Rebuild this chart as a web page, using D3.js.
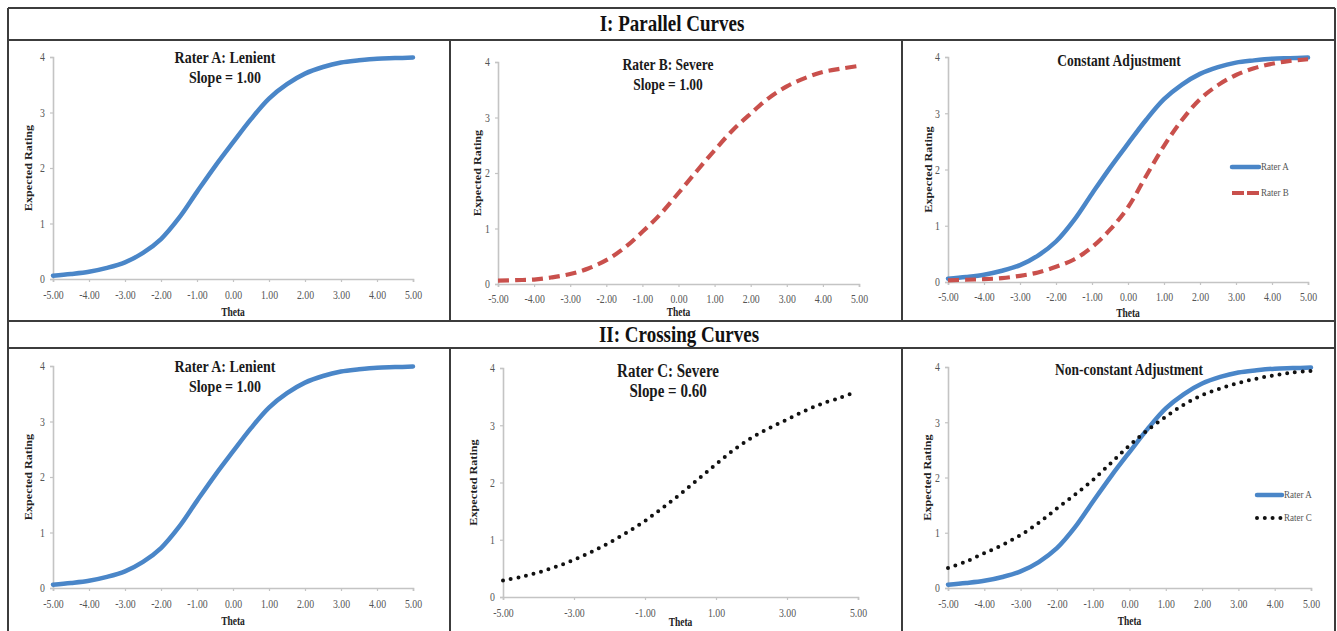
<!DOCTYPE html>
<html>
<head>
<meta charset="utf-8">
<title>Rater Curves</title>
<script src="https://d3js.org/d3.v7.min.js"></script>
<style>
  body { margin: 0; background: #fff; }
  svg { display: block; }
  text { font-family: "Liberation Serif", "Times New Roman", serif; }
</style>
</head>
<body>
<svg width="1337" height="631"></svg>
<script>
// theta grid used by the curves (every half unit)
const theta = [-5, -4.5, -4, -3.5, -3, -2.5, -2, -1.5, -1, -0.5, 0, 0.5, 1, 1.5, 2, 2.5, 3, 3.5, 4, 4.5, 5];
const thetaC = [-5, -4.5, -4, -3.5, -3, -2.5, -2, -1.5, -1, -0.5, 0, 0.5, 1, 1.5, 2, 2.5, 3, 3.5, 4, 4.5, 4.8];

const raterA = [0.06, 0.09, 0.13, 0.2, 0.3, 0.47, 0.72, 1.1, 1.57, 2.03, 2.46, 2.88, 3.25, 3.51, 3.7, 3.82, 3.9, 3.94, 3.97, 3.98, 3.99];
// rater B as drawn in the single panel and in the overlay panel
const raterBSevere = [0.06, 0.07, 0.08, 0.12, 0.18, 0.28, 0.43, 0.65, 0.94, 1.26, 1.64, 2.03, 2.41, 2.77, 3.07, 3.35, 3.56, 3.71, 3.82, 3.88, 3.93];
const raterBConstant = [0.03, 0.04, 0.05, 0.07, 0.11, 0.17, 0.27, 0.4, 0.62, 0.93, 1.33, 1.88, 2.42, 2.88, 3.25, 3.5, 3.68, 3.8, 3.88, 3.93, 3.96];
// rater C as drawn in the single panel and in the overlay panel
const raterCSevere = [0.29, 0.35, 0.43, 0.53, 0.65, 0.79, 0.95, 1.13, 1.33, 1.56, 1.8, 2.06, 2.32, 2.57, 2.78, 2.95, 3.1, 3.25, 3.38, 3.48, 3.55];
const raterCNonConstant = [0.36, 0.48, 0.63, 0.78, 0.96, 1.18, 1.44, 1.69, 1.96, 2.27, 2.58, 2.86, 3.1, 3.32, 3.49, 3.61, 3.71, 3.79, 3.85, 3.9, 3.93];

const thetaTicks = [-5, -4, -3, -2, -1, 0, 1, 2, 3, 4, 5];
const thetaTicksCoarse = [-5, -3, -1, 1, 3, 5];
const ratingTicks = [0, 1, 2, 3, 4];

const sectionTitles = ["I: Parallel Curves", "II: Crossing Curves"];

const BLUE = "#4a86c8", RED = "#c9504c";
const STRETCH = 1.22; // the source image is squeezed horizontally, so text looks tall
const styles = {
  solid: { stroke: BLUE, width: 4.5, dash: null, cap: "round" },
  dashed: { stroke: RED, width: 4.2, dash: "11,6", cap: "butt" },
  dotted: { stroke: "#111", width: 4, dash: "0,7.8", cap: "round" }
};

const svg = d3.select("svg");

// frame
const frame = svg.append("g").attr("stroke", "#3c3c3c").attr("stroke-width", 2);
[8, 40, 321, 348].forEach(y => frame.append("line").attr("x1", 8).attr("x2", 1335).attr("y1", y).attr("y2", y));
frame.append("line").attr("x1", 8).attr("x2", 8).attr("y1", 8).attr("y2", 640);
frame.append("line").attr("x1", 1335).attr("x2", 1335).attr("y1", 8).attr("y2", 640);
[450, 902].forEach(x => {
  frame.append("line").attr("x1", x).attr("x2", x).attr("y1", 40).attr("y2", 321);
  frame.append("line").attr("x1", x).attr("x2", x).attr("y1", 348).attr("y2", 640);
});

function tallText(parent, x, y, size, str) {
  return parent.append("text").attr("transform", `translate(${x},${y}) scale(1,${STRETCH})`)
    .attr("font-size", size).text(str);
}

tallText(svg, 672, 31, 19, sectionTitles[0]).attr("text-anchor", "middle")
  .attr("font-weight", "bold").attr("fill", "#111");
tallText(svg, 679, 342, 19, sectionTitles[1]).attr("text-anchor", "middle")
  .attr("font-weight", "bold").attr("fill", "#111");

const panels = [
  { left: 53, right: 413, top: 57, bottom: 279, cx: 225, titles: ["Rater A: Lenient", "Slope = 1.00"], tY: 63, tSize: 14,
    pad: 9, thetaY: 316, yLabX: 28, ticks: thetaTicks,
    series: [{ x: theta, y: raterA, s: "solid" }] },
  { left: 498, right: 859, top: 62, bottom: 284, cx: 668, titles: ["Rater B: Severe", "Slope = 1.00"], tY: 70, tSize: 13.5,
    pad: 8, thetaY: 316, yLabX: 477, ticks: thetaTicks,
    series: [{ x: theta, y: raterBSevere, s: "dashed" }] },
  { left: 948, right: 1308, top: 57, bottom: 282, cx: 1119, titles: ["Constant Adjustment"], tY: 66, tSize: 13.5,
    pad: 8, thetaY: 317, yLabX: 928, ticks: thetaTicks,
    series: [{ x: theta, y: raterA, s: "solid", name: "Rater A" }, { x: theta, y: raterBConstant, s: "dashed", name: "Rater B" }],
    legend: { x: 1232, w: 27, y: [167, 193] } },
  { left: 53, right: 413, top: 366, bottom: 588, cx: 225, titles: ["Rater A: Lenient", "Slope = 1.00"], tY: 372, tSize: 14,
    pad: 9, thetaY: 625, yLabX: 28, ticks: thetaTicks,
    series: [{ x: theta, y: raterA, s: "solid" }] },
  { left: 503, right: 858, top: 368, bottom: 597, cx: 668, titles: ["Rater C: Severe", "Slope = 0.60"], tY: 377, tSize: 15,
    pad: 9, thetaY: 626, yLabX: 473, ticks: thetaTicksCoarse,
    series: [{ x: thetaC, y: raterCSevere, s: "dotted" }] },
  { left: 948, right: 1311, top: 367, bottom: 588, cx: 1129, titles: ["Non-constant Adjustment"], tY: 375, tSize: 13.5,
    pad: 9, thetaY: 625, yLabX: 927, ticks: thetaTicks,
    series: [{ x: theta, y: raterA, s: "solid", name: "Rater A" }, { x: theta, y: raterCNonConstant, s: "dotted", name: "Rater C" }],
    legend: { x: 1257, w: 25, y: [495, 518] } }
];

panels.forEach(p => {
  const g = svg.append("g");
  const x = d3.scaleLinear().domain([-5, 5]).range([p.left, p.right]);
  const y = d3.scaleLinear().domain([0, 4]).range([p.bottom, p.top]);

  const xAxis = d3.axisBottom(x).tickValues(p.ticks).tickSize(3).tickPadding(p.pad)
    .tickFormat(d => d.toFixed(2));
  const yAxis = d3.axisLeft(y).tickValues(ratingTicks).tickSize(3).tickPadding(5)
    .tickFormat(d => d);

  const gx = g.append("g").attr("transform", `translate(0,${p.bottom})`).call(xAxis);
  const gy = g.append("g").attr("transform", `translate(${p.left},0)`).call(yAxis);
  [gx, gy].forEach(a => {
    a.select(".domain").attr("stroke", "#c4c4c4").attr("stroke-width", 1.6);
    a.selectAll(".tick line").attr("stroke", "#c4c4c4").attr("stroke-width", 1.2);
    a.selectAll(".tick text").attr("fill", "#555").attr("font-size", 9.8)
      .attr("font-family", "Liberation Serif, serif");
  });
  gx.selectAll(".tick text").each(function() {
    const t = d3.select(this);
    const yy = +t.attr("y");
    t.attr("y", 0).attr("transform", `translate(0,${yy}) scale(1,${STRETCH})`);
  });
  gy.selectAll(".tick text").attr("transform", `scale(1,${STRETCH})`);

  tallText(g, (p.left + p.right) / 2, p.thetaY, 9.5, "Theta").attr("text-anchor", "middle")
    .attr("font-weight", "bold").attr("fill", "#222");
  g.append("text").attr("transform", `translate(${p.yLabX},${(p.top + p.bottom) / 2}) rotate(-90) scale(${STRETCH},1)`)
    .attr("text-anchor", "middle").attr("dy", "0.35em")
    .attr("font-size", 10).attr("font-weight", "bold").attr("fill", "#222").text("Expected Rating");

  p.titles.forEach((t, i) => {
    tallText(g, p.cx, p.tY + i * 20, p.tSize, t).attr("text-anchor", "middle")
      .attr("font-weight", "bold").attr("fill", "#1a1a1a");
  });

  const line = d3.line().x(d => x(d[0])).y(d => y(d[1])).curve(d3.curveCatmullRom.alpha(0.5));
  p.series.forEach(s => {
    const st = styles[s.s];
    g.append("path").attr("d", line(d3.zip(s.x, s.y)))
      .attr("fill", "none").attr("stroke", st.stroke).attr("stroke-width", st.width)
      .attr("stroke-dasharray", st.dash).attr("stroke-linecap", st.cap).attr("stroke-linejoin", "round");
  });

  if (p.legend) {
    p.series.forEach((s, i) => {
      const st = styles[s.s];
      const ly = p.legend.y[i];
      g.append("line").attr("x1", p.legend.x).attr("x2", p.legend.x + p.legend.w).attr("y1", ly).attr("y2", ly)
        .attr("stroke", st.stroke).attr("stroke-width", st.width)
        .attr("stroke-dasharray", s.s === "dashed" ? "12,3" : st.dash).attr("stroke-linecap", st.cap);
      tallText(g, p.legend.x + p.legend.w + 2, ly + 3, 9, s.name).attr("fill", "#555");
    });
  }
});
</script>
</body>
</html>
